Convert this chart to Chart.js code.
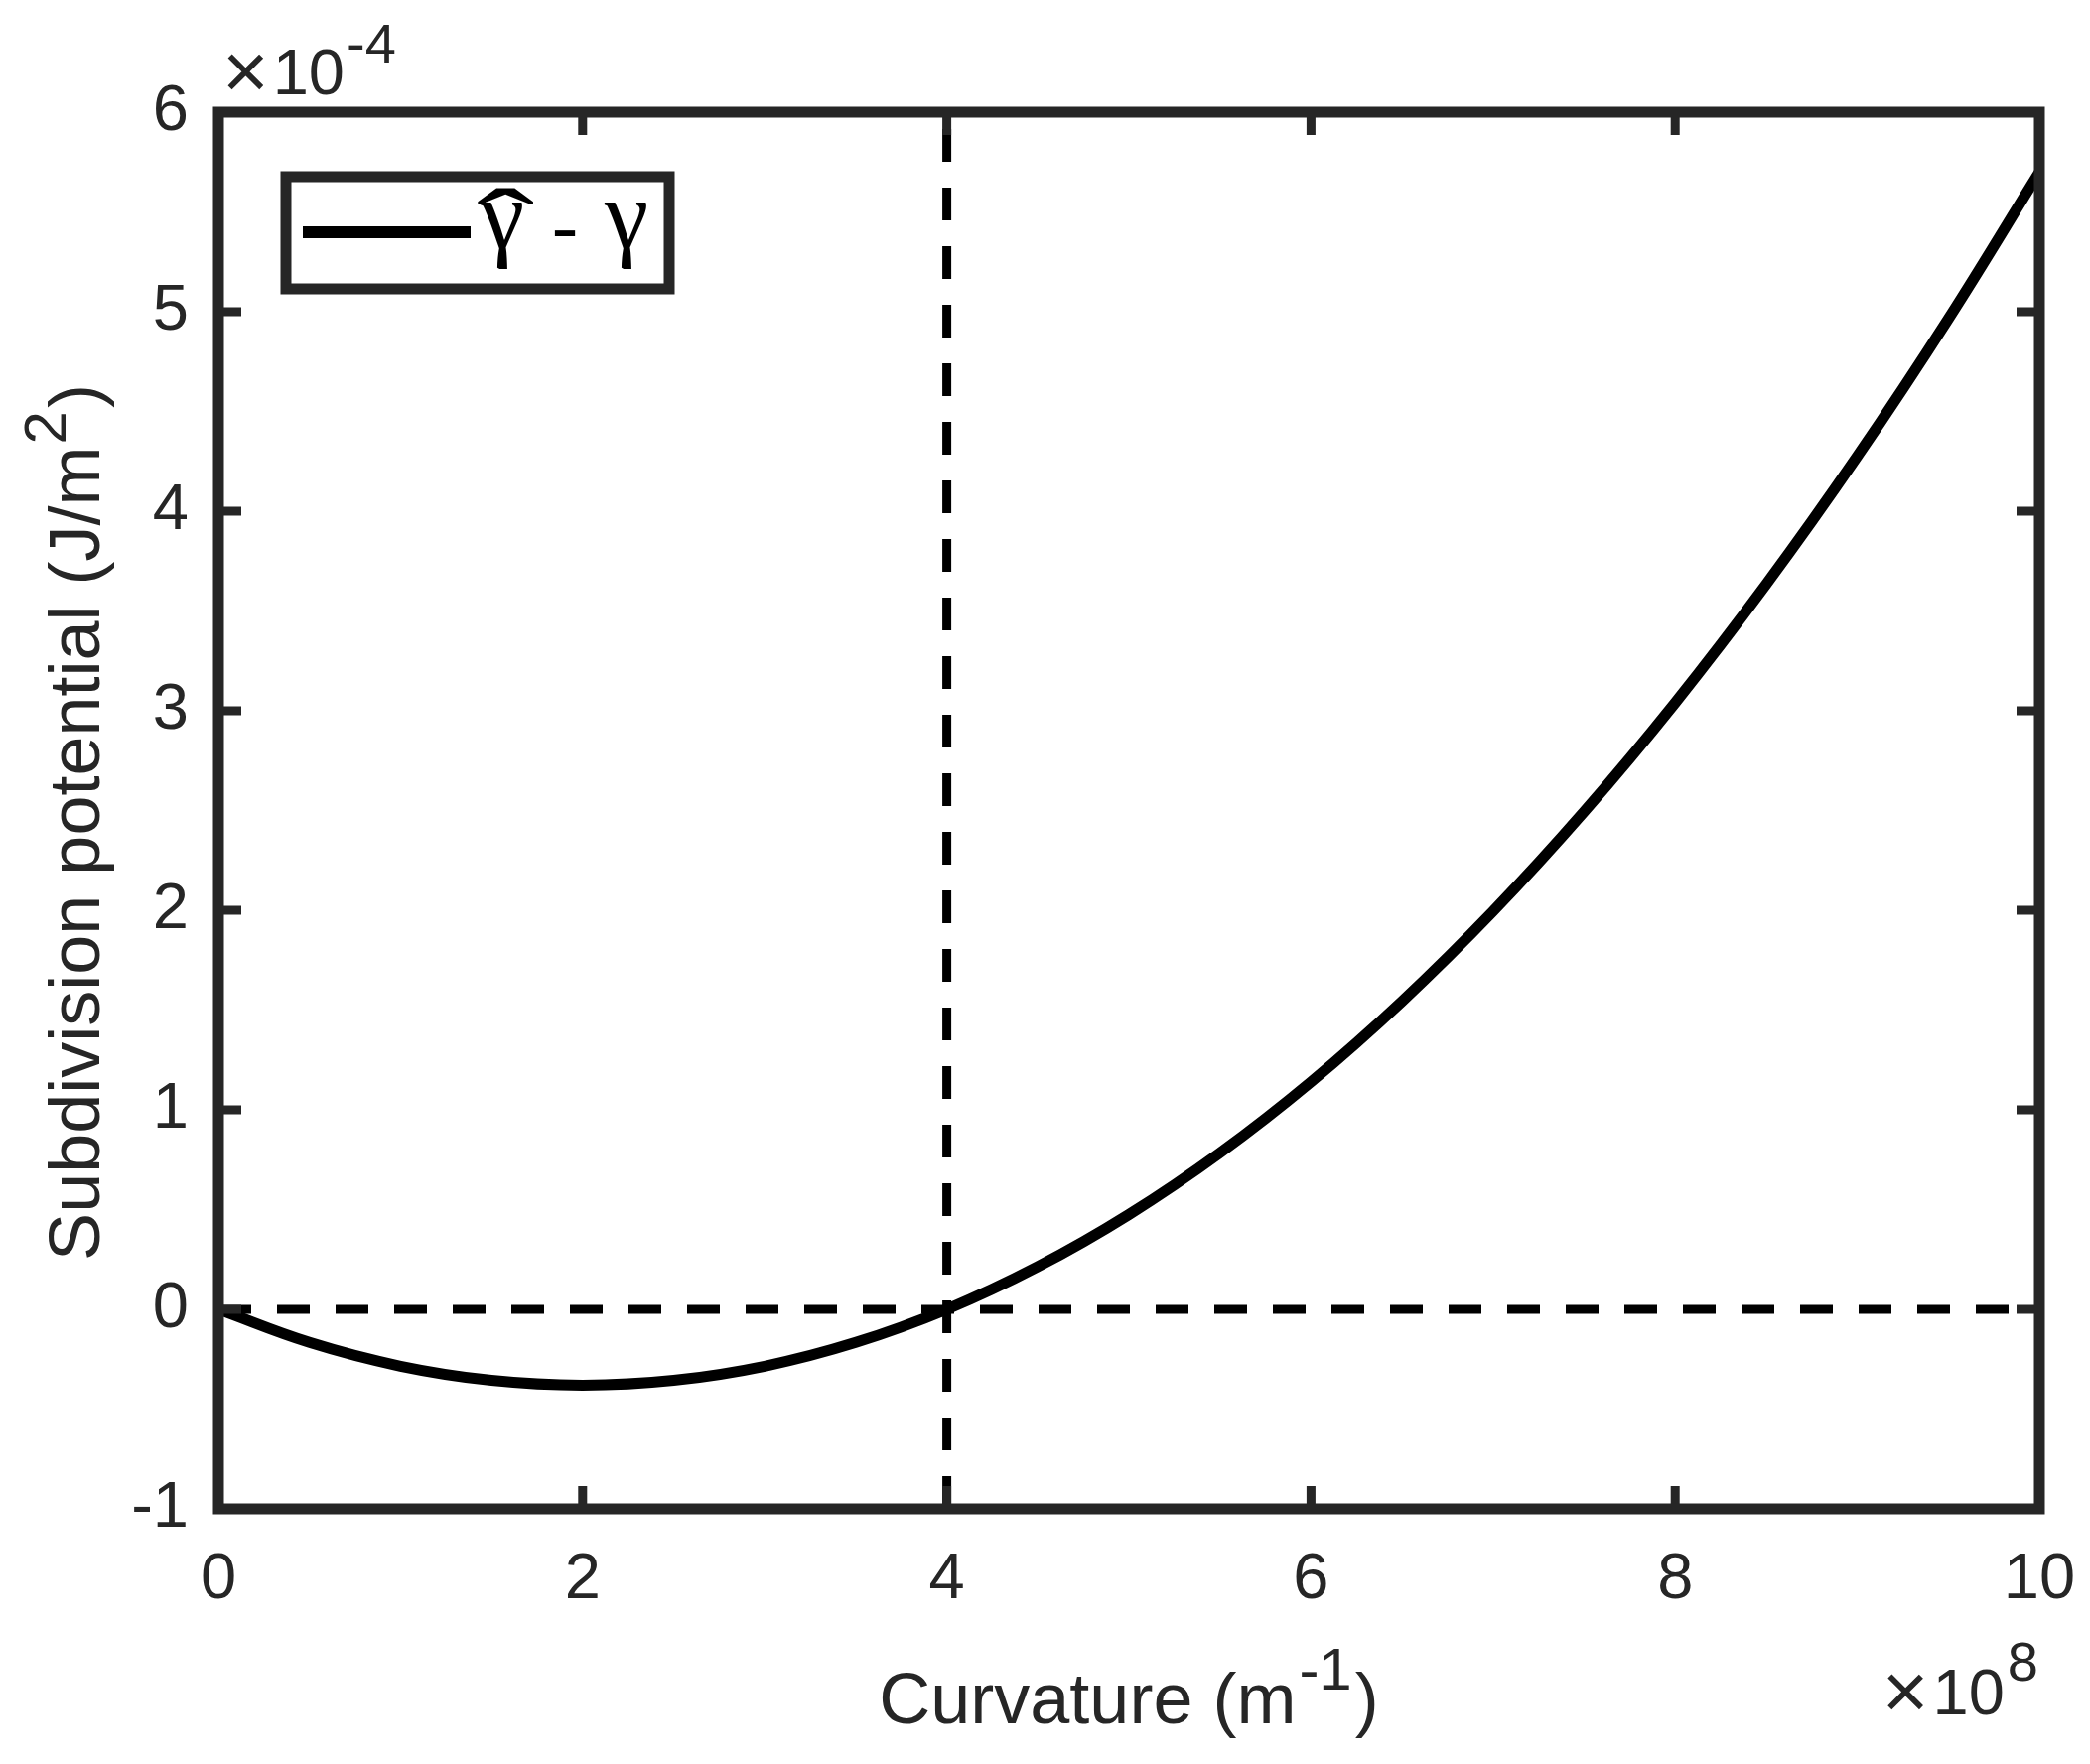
<!DOCTYPE html>
<html>
<head>
<meta charset="utf-8">
<script src="https://cdn.jsdelivr.net/npm/chart.js@4.4.0/dist/chart.umd.min.js"></script>
<style>
html,body{margin:0;padding:0;background:#fff;}
#wrap{width:2105px;height:1777px;position:relative;}
</style>
</head>
<body>
<div id="wrap"><canvas id="c"></canvas></div>
<script>
// ---- data (x in units of 1e8 m^-1, y in units of 1e-4 J/m^2) ----
const curvature = [0,0.5,1,1.5,2,2.5,3,3.5,4,4.5,5,5.5,6,6.5,7,7.5,8,8.5,9,9.5,10];
const potential = [0,-0.166,-0.285,-0.356,-0.38,-0.356,-0.285,-0.166,0,0.214,0.475,0.784,1.14,1.544,1.995,2.494,3.04,3.634,4.275,4.964,5.70];
const zeroLineX = [0,10];
const zeroLineY = [0,0];
const crossLineX = [4,4];
const crossLineY = [-1,6];
const xTicks = [0,2,4,6,8,10];
const yTicks = [-1,0,1,2,3,4,5,6];
const xTitleMain = 'Curvature (m';
const xTitleSup = '-1';
const xTitleEnd = ')';
const yTitleMain = 'Subdivision potential (J/m';
const yTitleSup = '2';
const yTitleEnd = ')';
const xExponent = '8';
const yExponent = '-4';
const legendLabel = 'γ̂ - γ';

const SANS = '"Liberation Sans", Arial, Helvetica, sans-serif';
const SERIF = '"Liberation Serif", "Times New Roman", serif';
const AXC = '#262626';

function pts(xs, ys){ return xs.map((x,i)=>({x:x, y:ys[i]})); }

function drawRich(ctx, parts, x, y, align){
  let total = 0;
  const widths = parts.map(p=>{ ctx.font = p.size + 'px ' + SANS; const w = ctx.measureText(p.t).width; total += w + (p.dx||0); return w; });
  let cx = align === 'center' ? x - total/2 : (align === 'right' ? x - total : x);
  parts.forEach((p,i)=>{
    ctx.font = p.size + 'px ' + SANS;
    cx += (p.dx||0);
    ctx.fillText(p.t, cx, y + (p.dy||0));
    cx += widths[i];
  });
}

const framePlugin = {
  id: 'frame',
  afterDatasetsDraw(chart){
    const ctx = chart.ctx;
    const a = chart.chartArea;
    const xs = chart.scales.x, ys = chart.scales.y;
    ctx.save();
    ctx.strokeStyle = AXC;
    ctx.lineWidth = 9;
    ctx.lineCap = 'butt';
    const TL = 23;
    xTicks.forEach(v=>{
      const px = xs.getPixelForValue(v);
      ctx.beginPath();
      ctx.moveTo(px, a.bottom); ctx.lineTo(px, a.bottom - TL);
      ctx.moveTo(px, a.top); ctx.lineTo(px, a.top + TL);
      ctx.stroke();
    });
    yTicks.forEach(v=>{
      const py = ys.getPixelForValue(v);
      ctx.beginPath();
      ctx.moveTo(a.left, py); ctx.lineTo(a.left + TL, py);
      ctx.moveTo(a.right, py); ctx.lineTo(a.right - TL, py);
      ctx.stroke();
    });
    ctx.lineWidth = 11;
    ctx.lineJoin = 'miter';
    ctx.strokeRect(a.left, a.top, a.right - a.left, a.bottom - a.top);
    ctx.restore();
  },
  afterDraw(chart){
    const ctx = chart.ctx;
    const a = chart.chartArea;
    ctx.save();
    ctx.fillStyle = AXC;
    ctx.textBaseline = 'alphabetic';
    ctx.textAlign = 'left';
    // y exponent  x10^-4
    ctx.font = '80px ' + SANS;
    ctx.fillText('×', a.left + 4, 99);
    const wx = ctx.measureText('×').width;
    ctx.font = '65px ' + SANS;
    ctx.fillText('10', a.left + 4 + wx + 4, 95);
    const w10 = ctx.measureText('10').width;
    ctx.font = '56px ' + SANS;
    ctx.fillText(yExponent, a.left + 4 + wx + 4 + w10 + 2, 63);
    // x exponent x10^8
    ctx.font = '56px ' + SANS;
    const w8 = ctx.measureText(xExponent).width;
    ctx.fillText(xExponent, 2053 - w8, 1693);
    ctx.font = '65px ' + SANS;
    const w10b = ctx.measureText('10').width;
    ctx.fillText('10', 2053 - w8 - 3 - w10b, 1727);
    ctx.font = '80px ' + SANS;
    const wxb = ctx.measureText('×').width;
    ctx.fillText('×', 2053 - w8 - 3 - w10b - 4 - wxb, 1731);
    // x title
    const cxm = (a.left + a.right)/2;
    drawRich(ctx, [
      {t:xTitleMain, size:72},
      {t:xTitleSup, size:60, dy:-34, dx:3},
      {t:xTitleEnd, size:72, dx:3}
    ], cxm, 1736, 'center');
    // y title (rotated)
    ctx.save();
    ctx.translate(100, (a.top + a.bottom)/2 + 12);
    ctx.rotate(-Math.PI/2);
    drawRich(ctx, [
      {t:yTitleMain, size:72},
      {t:yTitleSup, size:60, dy:-34, dx:2},
      {t:yTitleEnd, size:72, dx:3}
    ], 0, 0, 'center');
    ctx.restore();
    // legend
    const ds = chart.data.datasets[0];
    ctx.fillStyle = '#fff';
    ctx.fillRect(288, 178, 386, 113);
    ctx.strokeStyle = AXC;
    ctx.lineWidth = 11;
    ctx.strokeRect(288, 178, 386, 113);
    ctx.strokeStyle = ds.borderColor;
    ctx.lineWidth = 12;
    ctx.beginPath(); ctx.moveTo(305, 234); ctx.lineTo(474, 234); ctx.stroke();
    const parts = legendLabel.replace('\u0302','').split(' - ');
    ctx.fillStyle = '#000';
    ctx.font = '100px ' + SERIF;
    ctx.fillText(parts[0], 484, 250);
    const wg = ctx.measureText(parts[0]).width;
    ctx.fillText(parts[1], 609, 250);
    ctx.font = '78px ' + SERIF;
    ctx.fillText('-', 556, 254);
    // circumflex over the first gamma
    ctx.save();
    ctx.translate(484 + wg/2 + 3, 262);
    ctx.scale(2.2, 1.3);
    ctx.font = '80px ' + SERIF;
    ctx.textAlign = 'center';
    ctx.fillText('\u02C6', 0, 0);
    ctx.restore();
    ctx.restore();
  }
};

new Chart(document.getElementById('c'), {
  type: 'scatter',
  data: {
    datasets: [
      { label: legendLabel, data: pts(curvature, potential), showLine: true, borderColor: '#000', borderWidth: 11,
        pointRadius: 0, tension: 0.4, fill: false },
      { label: 'zero', data: pts(zeroLineX, zeroLineY), showLine: true, borderColor: '#000', borderWidth: 9,
        borderDash: [33, 26], pointRadius: 0, fill: false },
      { label: 'cross', data: pts(crossLineX, crossLineY), showLine: true, borderColor: '#000', borderWidth: 9,
        borderDash: [33, 26], pointRadius: 0, fill: false }
    ]
  },
  options: {
    responsive: true,
    maintainAspectRatio: false,
    devicePixelRatio: 1,
    animation: false,
    layout: { padding: { left: 0, top: 113, right: 51, bottom: 0 } },
    plugins: { legend: { display: false }, tooltip: { enabled: false } },
    scales: {
      x: {
        type: 'linear', min: 0, max: 10,
        grid: { display: false, drawTicks: false },
        border: { display: false },
        afterBuildTicks: s => { s.ticks = xTicks.map(v => ({ value: v })); },
        afterFit: s => { s.height = 257; s.paddingLeft = 0; s.paddingRight = 0; },
        ticks: { color: AXC, padding: 33, maxRotation: 0, autoSkip: false,
          font: { family: SANS, size: 65 }, callback: v => String(v) }
      },
      y: {
        type: 'linear', min: -1, max: 6,
        grid: { display: false, drawTicks: false },
        border: { display: false },
        afterBuildTicks: s => { s.ticks = yTicks.map(v => ({ value: v })); },
        afterFit: s => { s.width = 220; s.paddingTop = 0; s.paddingBottom = 0; },
        ticks: { color: AXC, padding: 30, autoSkip: false,
          font: { family: SANS, size: 65 }, callback: v => String(v) }
      }
    }
  },
  plugins: [framePlugin]
});
</script>
</body>
</html>
